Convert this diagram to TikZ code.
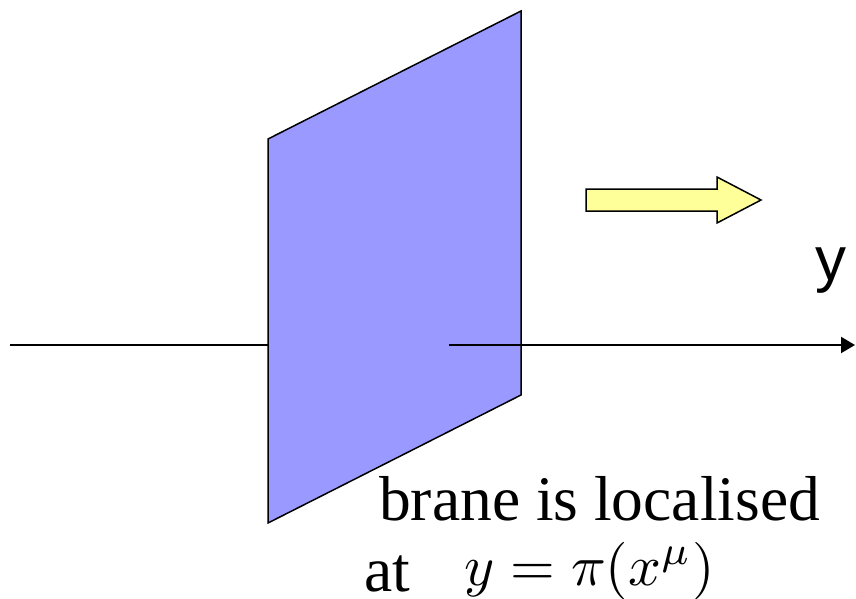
\documentclass[tikz,border=0pt]{standalone}
\usepackage{fontspec}
\setmainfont{Liberation Serif}
\newfontfamily\axisfont{Liberation Sans}
\usepackage{graphicx}
\usepackage{tikz}
\usetikzlibrary{arrows.meta}
\definecolor{branefill}{HTML}{9999FF}
\definecolor{pushfill}{HTML}{FFFF99}

\begin{document}
\begin{tikzpicture}[
  x=1pt, y=-1pt,
  brane/.style={draw=black, line width=1.5pt, fill=branefill, line join=miter},
  axis/.style={line width=2pt},
  push/.style={draw=black, line width=1.5pt, fill=pushfill, line join=miter},
  big/.style={inner sep=0pt, font=\fontsize{63.5}{70}\selectfont},
  mathlbl/.style={inner sep=0pt, text depth=0pt}
]
  \useasboundingbox (0,0) rectangle (856,599);

  % y axis, behind the brane
  \coordinate (ystart) at (10,345);
  \coordinate (ymid)   at (268,345);
  \draw[axis] (ystart) -- (ymid);

  % the brane
  \draw[brane] (268,139) -- (521,11) -- (521,395) -- (268,523) -- cycle;

  % y axis, in front of the brane
  \coordinate (yfront) at (449,345);
  \coordinate (yend)   at (855,345);
  \draw[axis, -{Triangle[length=14pt, width=16pt]}] (yfront) -- (yend);
  \node[inner sep=0pt, anchor=base west, font=\axisfont\fontsize{62}{70}\selectfont] (ylabel) at (815,280) {y};

  % direction of motion
  \draw[push] (586,189) -- (717,189) -- (717,177) -- (761,200)
              -- (717,223) -- (717,211) -- (586,211) -- cycle;

  % labels
  \node[big, anchor=base west] (brane) at (379,520) {brane is localised};
  \node[big, anchor=base west, text depth=0pt] (at) at (364,591) {at};
  \node[mathlbl, anchor=base west] (pos) at (464,585) {\scalebox{5.75}{$y=\pi(x^\mu)$}};
\end{tikzpicture}
\end{document}
